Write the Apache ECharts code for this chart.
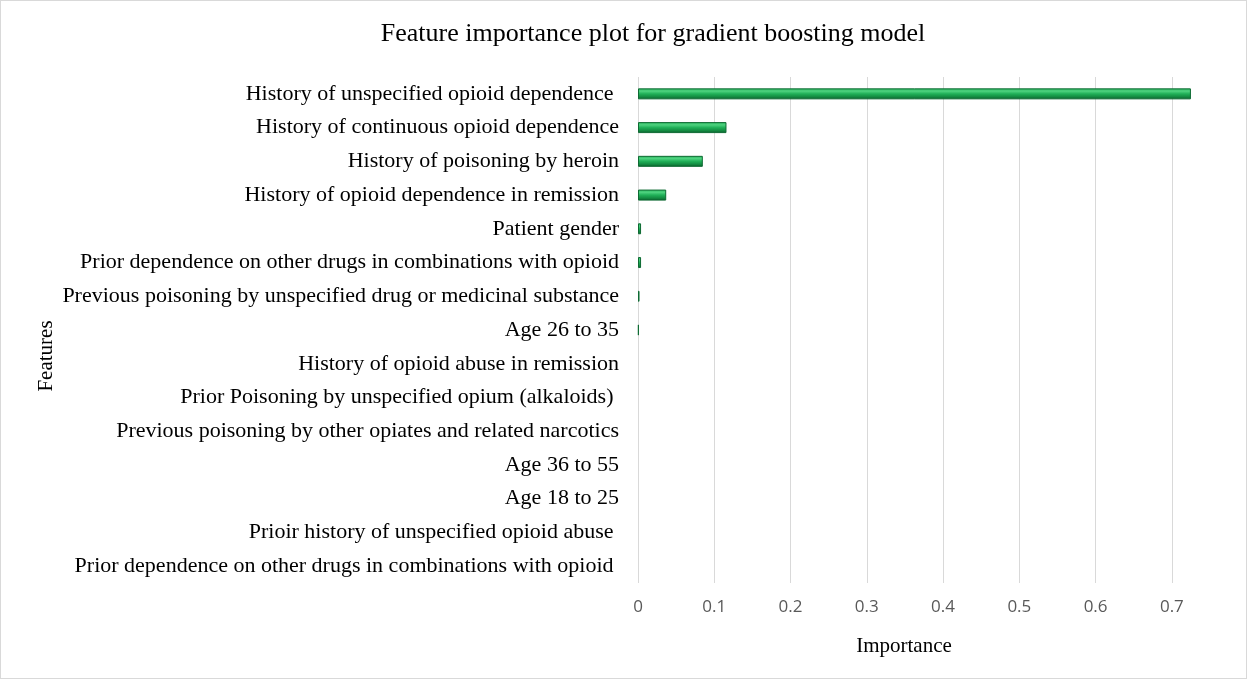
<!DOCTYPE html>
<html>
<head>
<meta charset="utf-8">
<script src="https://cdn.jsdelivr.net/npm/echarts@6/dist/echarts.min.js"></script>
<style>
  html, body { margin: 0; padding: 0; background: #fff; }
  #chart { width: 1245px; height: 677px; border: 1px solid #d9d9d9; }
</style>
</head>
<body>
<div id="chart"></div>
<script>
// Features, listed top to bottom
const features = [
  'History of unspecified opioid dependence ',
  'History of continuous opioid dependence',
  'History of poisoning by heroin',
  'History of opioid dependence in remission',
  'Patient gender',
  'Prior dependence on other drugs in combinations with opioid',
  'Previous poisoning by unspecified drug or medicinal substance',
  'Age 26 to 35',
  'History of opioid abuse in remission',
  'Prior Poisoning by unspecified opium (alkaloids) ',
  'Previous poisoning by other opiates and related narcotics',
  'Age 36 to 55',
  'Age 18 to 25',
  'Prioir history of unspecified opioid abuse ',
  'Prior dependence on other drugs in combinations with opioid '
];

// Importance score of each feature
const importance = [0.725, 0.116, 0.085, 0.037, 0.004, 0.004, 0.002, 0.001, 0, 0, 0, 0, 0, 0, 0];

// Importance axis ticks
const importanceTicks = [0, 0.1, 0.2, 0.3, 0.4, 0.5, 0.6, 0.7];

const chart = echarts.init(document.getElementById('chart'));

// bevelled green fill: light rim on top, darker shade underneath
const barFill = new echarts.graphic.LinearGradient(0, 0, 0, 1, [
  { offset: 0, color: '#27b45c' },
  { offset: 0.25, color: '#4ed27f' },
  { offset: 0.5, color: '#20b058' },
  { offset: 0.78, color: '#138a41' },
  { offset: 1, color: '#0a5a2a' }
]);

// zero-valued features get no outline so nothing is drawn for them
const barData = importance.map(v => v === 0
  ? { value: v, itemStyle: { borderWidth: 0 } }
  : v);

chart.setOption({
  animation: false,
  graphic: [
    {
      type: 'text',
      x: 652, y: 33,
      style: {
        text: 'Feature importance plot for gradient boosting model',
        font: '26px "Liberation Serif"', fill: '#000',
        align: 'center', verticalAlign: 'middle'
      }
    },
    {
      type: 'text',
      x: 903, y: 645,
      style: {
        text: 'Importance',
        font: '21px "Liberation Serif"', fill: '#000',
        align: 'center', verticalAlign: 'middle'
      }
    },
    {
      type: 'text',
      x: 45, y: 355,
      rotation: Math.PI / 2,
      style: {
        text: 'Features',
        font: '21px "Liberation Serif"', fill: '#000',
        align: 'center', verticalAlign: 'middle'
      }
    }
  ],
  grid: { left: 637, right: 36, top: 76, height: 506, containLabel: false },
  xAxis: {
    type: 'value',
    min: 0, max: 0.75, interval: 0.1,
    axisLine: { show: false },
    axisTick: { show: false },
    splitLine: { show: true, showMaxLine: false, lineStyle: { color: '#d9d9d9', width: 1 } },
    axisLabel: {
      showMaxLabel: false,
      margin: 16,
      color: '#595959',
      fontFamily: 'Open Sans',
      fontSize: 17,
      formatter: v => {
        const t = importanceTicks.find(x => Math.abs(x - v) < 1e-9);
        return t === undefined ? '' : String(t);
      }
    }
  },
  yAxis: {
    type: 'category',
    inverse: true,
    data: features,
    axisLine: { show: false },
    axisTick: { show: false },
    axisLabel: {
      margin: 19,
      color: '#000',
      fontFamily: 'Liberation Serif',
      fontSize: 22
    }
  },
  series: [
    {
      type: 'bar',
      data: barData,
      barWidth: 11,
      itemStyle: {
        color: barFill,
        borderColor: '#0e6a33',
        borderWidth: 1
      }
    }
  ]
});
</script>
</body>
</html>
